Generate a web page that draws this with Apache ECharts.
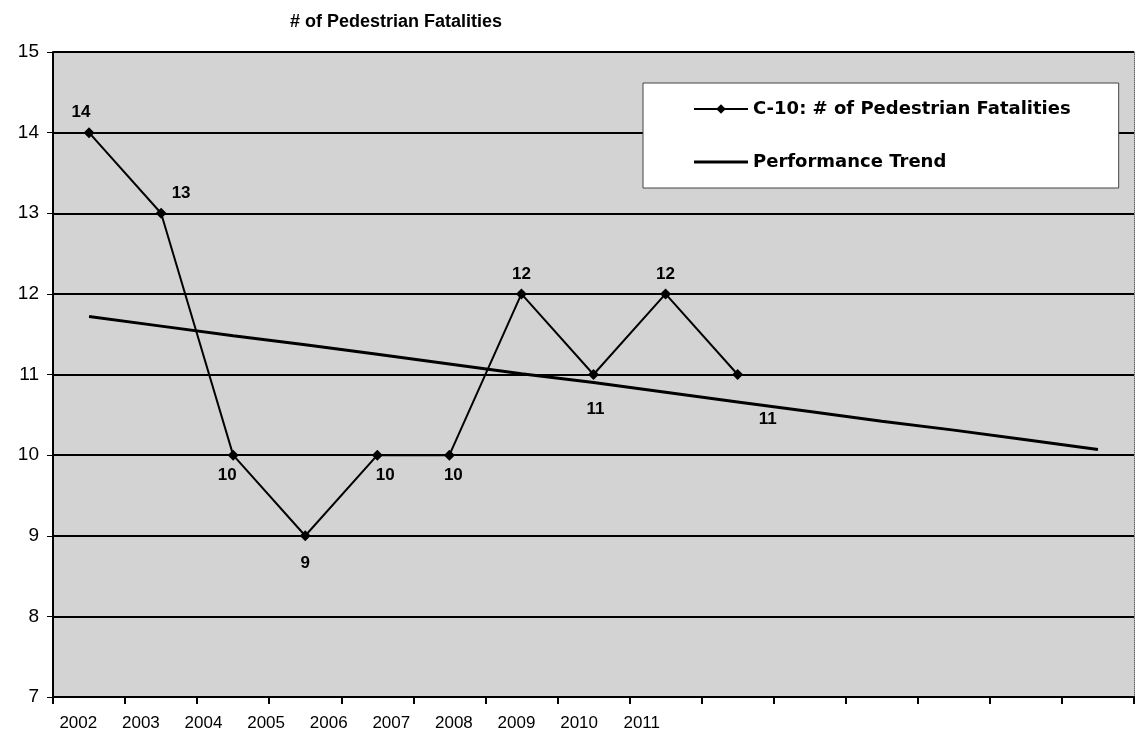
<!DOCTYPE html>
<html>
<head>
<meta charset="utf-8">
<script src="https://cdn.jsdelivr.net/npm/echarts@6/dist/echarts.min.js"></script>
<style>
  html, body { margin: 0; padding: 0; background: #fff; }
  #main { width: 1143px; height: 748px; }
</style>
</head>
<body>
<div id="main"></div>
<script>
// categories on the plotting axis (trend runs past the last data year)
var plotYears = ['2002', '2003', '2004', '2005', '2006', '2007', '2008', '2009',
                 '2010', '2011', '2012', '2013', '2014', '2015', '2016'];
// year labels printed under the axis
var labelYears = ['2002', '2003', '2004', '2005', '2006', '2007', '2008', '2009', '2010', '2011'];
// C-10: # of Pedestrian Fatalities
var fatalities = [14, 13, 10, 9, 10, 10, 12, 11, 12, 11];
// Performance Trend
var trend = [11.72, 11.60, 11.48, 11.37, 11.25, 11.13, 11.01, 10.90,
             10.78, 10.66, 10.54, 10.42, 10.31, 10.19, 10.07];
var yTicks = [7, 8, 9, 10, 11, 12, 13, 14, 15];

// where each value label sits round its point
var labelPlace = [
    { position: 'top', offset: [-8, 0] },
    { position: 'top', offset: [20, 0] },
    { position: 'bottom', offset: [-6, 0] },
    { position: 'bottom', offset: [0, 8] },
    { position: 'bottom', offset: [8, 0] },
    { position: 'bottom', offset: [4, 0] },
    { position: 'top', offset: [0, 0] },
    { position: 'bottom', offset: [2, 15] },
    { position: 'top', offset: [0, 0] },
    { position: 'bottom', offset: [30, 25] }
];

var fatalData = fatalities.map(function (v, i) {
    return { value: v, label: labelPlace[i] };
});

var chart = echarts.init(document.getElementById('main'));
var font = 'Liberation Sans, Arial, sans-serif';
var legendFont = 'DejaVu Sans, Liberation Sans, sans-serif';

var option = {
    backgroundColor: '#fff',
    animation: false,
    title: {
        text: '# of Pedestrian Fatalities',
        left: 285,
        top: 8,
        textStyle: { fontFamily: font, fontSize: 18, fontWeight: 'bold', color: '#000' }
    },
    legend: {
        orient: 'vertical',
        left: 643,
        top: 83,
        padding: [17, 48, 17, 50],
        itemGap: 35,
        itemWidth: 54,
        itemHeight: 12,
        backgroundColor: '#fff',
        borderColor: '#444',
        borderWidth: 1,
        textStyle: { fontFamily: legendFont, fontSize: 18, fontWeight: 'bold', color: '#000' },
        data: [
            { name: 'C-10: # of Pedestrian Fatalities' },
            { name: 'Performance Trend', icon: 'path://M0,0 L54,0 L54,3 L0,3 Z' }
        ]
    },
    grid: [
        { left: 53, right: 9, top: 52, bottom: 51, show: true, backgroundColor: '#d3d3d3', borderWidth: 0 },
        { left: 47, width: 626, top: 52, bottom: 51 }
    ],
    xAxis: [
        {
            type: 'category',
            gridIndex: 0,
            data: plotYears,
            boundaryGap: true,
            axisLine: { lineStyle: { color: '#000', width: 2 } },
            axisTick: { show: true, length: 7, lineStyle: { color: '#000', width: 2 } },
            axisLabel: { show: false },
            splitLine: { show: false }
        },
        {
            type: 'category',
            gridIndex: 1,
            data: labelYears,
            boundaryGap: true,
            axisLine: { show: false },
            axisTick: { show: false },
            axisLabel: { margin: 18, fontFamily: font, fontSize: 17, color: '#000' }
        }
    ],
    yAxis: [
        {
            type: 'value',
            gridIndex: 0,
            min: yTicks[0],
            max: yTicks[yTicks.length - 1],
            interval: 1,
            axisLine: { show: true, lineStyle: { color: '#000', width: 2 } },
            axisTick: { show: true, length: 6, lineStyle: { color: '#000', width: 1 } },
            axisLabel: { margin: 14, fontFamily: font, fontSize: 19, color: '#000' },
            splitLine: { show: true, lineStyle: { color: '#000', width: 2 } }
        },
        {
            type: 'value',
            gridIndex: 0,
            position: 'right',
            min: yTicks[0],
            max: yTicks[yTicks.length - 1],
            interval: 1,
            axisLine: { show: true, lineStyle: { color: '#666', width: 1, type: 'dotted' } },
            axisTick: { show: false },
            axisLabel: { show: false },
            splitLine: { show: false }
        },
        {
            type: 'value',
            gridIndex: 1,
            show: false
        }
    ],
    series: [
        {
            name: 'C-10: # of Pedestrian Fatalities',
            type: 'line',
            xAxisIndex: 0,
            yAxisIndex: 0,
            data: fatalData,
            symbol: 'diamond',
            symbolSize: 11,
            itemStyle: { color: '#000' },
            lineStyle: { color: '#000', width: 2 },
            label: {
                show: true,
                distance: 6,
                fontFamily: font,
                fontSize: 17,
                fontWeight: 'bold',
                color: '#000'
            },
            z: 4
        },
        {
            name: 'Performance Trend',
            type: 'line',
            xAxisIndex: 0,
            yAxisIndex: 0,
            data: trend,
            symbol: 'none',
            itemStyle: { color: '#000' },
            lineStyle: { color: '#000', width: 3 },
            z: 3
        }
    ]
};

chart.setOption(option);
</script>
</body>
</html>
